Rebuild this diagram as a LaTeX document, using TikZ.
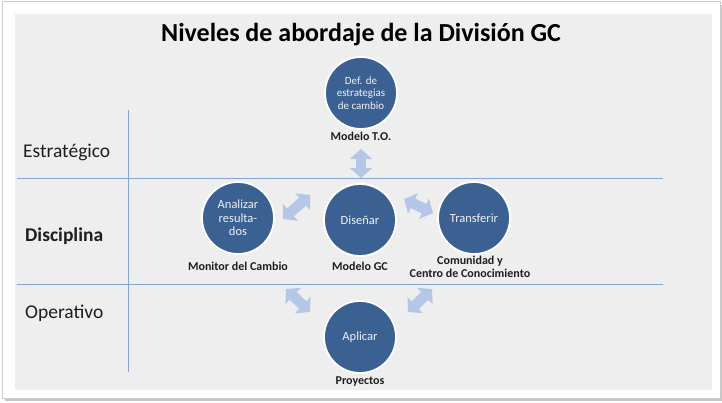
\documentclass[tikz,border=0pt]{standalone}
\usepackage{fontspec}
\setmainfont{Carlito}
\usetikzlibrary{arrows.meta,positioning}

\definecolor{circblue}{RGB}{59,96,146}
\definecolor{arrblue}{RGB}{180,199,231}
\definecolor{lineblue}{RGB}{131,166,214}
\definecolor{panelgray}{RGB}{238,238,238}
\definecolor{txtdark}{RGB}{30,30,30}

\begin{document}
\begin{tikzpicture}[
    x=1pt, y=-1pt,
    node distance=3pt,
    level/.style={font=\fontsize{19.5}{22}\selectfont, text=txtdark, anchor=west, inner sep=0pt},
    stage/.style={circle, draw=white, line width=1.8pt, fill=circblue, minimum size=72pt,
                  inner sep=0pt, align=center, text=white!92!circblue,
                  font=\fontsize{12.5}{13.3}\selectfont},
    caption/.style={font=\bfseries\fontsize{12}{12.8}\selectfont, text=txtdark,
                    align=center, inner sep=1pt},
    dblarrow/.style={{Triangle[length=10pt,width=22pt]}-{Triangle[length=10pt,width=22pt]},
                     line width=10.5pt, arrblue},
    divider/.style={lineblue, line width=1pt},
]
% frame and panel
\useasboundingbox (0,0) rectangle (722,402);
\fill[gray!45] (5,5) rectangle (722,401);
\fill[white] (2,1) rectangle (720,398);
\draw[gray!40, line width=0.8pt] (2,1) rectangle (720,398);
\fill[panelgray] (15,14) rectangle (712,390);

% title
\node[font=\bfseries\fontsize{26}{30}\selectfont, text=black, anchor=base] (title) at (361,41)
    {Niveles de abordaje de la División GC};

% grid lines
\draw[divider] (17,178) -- (663,178);
\draw[divider] (17,284) -- (663,284);
\draw[divider] (128,110) -- (128,372);

% levels
\node[level] (estrat) at (23,152) {Estratégico};
\node[level, font=\bfseries\fontsize{19.5}{22}\selectfont] (discip) at (25,236) {Disciplina};
\node[level] (operat) at (25,313) {Operativo};

% stages
\node[stage, font=\fontsize{11}{12.5}\selectfont] (defest) at (361,93)
    {Def. de\\estrategias\\de cambio};
\node[stage] (disenar) at (360,220) {Diseñar};
\node[stage] (analizar) at (238,218) {Analizar\\resulta-\\dos};
\node[stage] (transferir) at (474,218) {Transferir};
\node[stage] (aplicar) at (360,337) {Aplicar};

% captions
\node[caption, below=1pt of defest] (modeloto) {Modelo T.O.};
\node[caption, below=4pt of disenar] (modelogc) {Modelo GC};
\node[caption, below=6pt of analizar] (monitor) {Monitor del Cambio};
\node[caption, below=0pt of transferir, xshift=-4pt] (comunidad)
    {Comunidad y\\Centro de Conocimiento};
\node[caption, below=2pt of aplicar] (proyectos) {Proyectos};

% arrows
\coordinate (up1) at (361,149);   \coordinate (up2) at (361,178);
\coordinate (al1) at (283,219);   \coordinate (al2) at (310,195);
\coordinate (tr1) at (404,199);   \coordinate (tr2) at (433,213);
\coordinate (bl1) at (286,289);   \coordinate (bl2) at (310,312);
\coordinate (br1) at (408,312);   \coordinate (br2) at (432,289);
\draw[dblarrow] (up1) -- (up2);
\draw[dblarrow] (al1) -- (al2);
\draw[dblarrow] (tr1) -- (tr2);
\draw[dblarrow] (bl1) -- (bl2);
\draw[dblarrow] (br1) -- (br2);
\end{tikzpicture}
\end{document}
